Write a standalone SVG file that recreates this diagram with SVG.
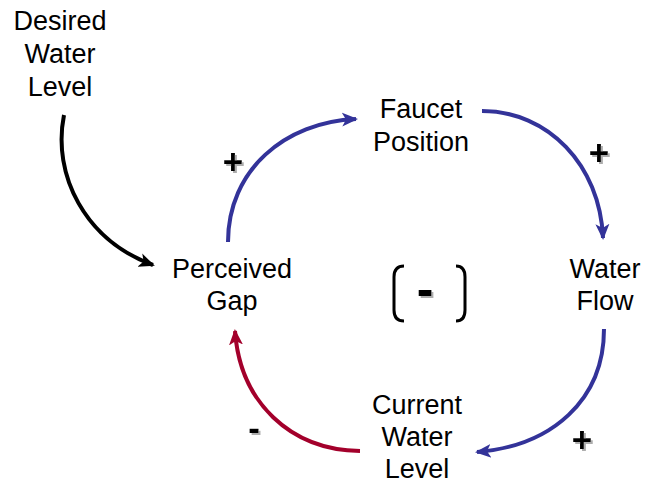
<svg xmlns="http://www.w3.org/2000/svg" width="645" height="484" viewBox="0 0 645 484">
<style>
.t{font-family:"Liberation Sans",Arial,sans-serif;font-size:27px;fill:#000;text-anchor:middle}
.s{font-family:"Liberation Sans",Arial,sans-serif;font-size:35px;font-weight:bold;text-anchor:middle;fill:#000;filter:url(#sh)}
.c{fill:none;stroke-width:4}
</style>
<defs>
<filter id="sh" x="-50%" y="-50%" width="200%" height="200%"><feDropShadow dx="2" dy="2" stdDeviation="0.4" flood-color="#999" flood-opacity="0.8"/></filter>
<marker id="ab" markerUnits="userSpaceOnUse" markerWidth="20" markerHeight="20" refX="14" refY="8" orient="auto"><path d="M0,1 L16,8 L0,15 L4,8 Z" fill="#333399"/></marker>
<marker id="ar" markerUnits="userSpaceOnUse" markerWidth="20" markerHeight="20" refX="14" refY="8" orient="auto"><path d="M0,1 L16,8 L0,15 L4,8 Z" fill="#a3002b"/></marker>
<marker id="ak" markerUnits="userSpaceOnUse" markerWidth="20" markerHeight="20" refX="14" refY="8" orient="auto"><path d="M0,1 L16,8 L0,15 L4,8 Z" fill="#000"/></marker>
</defs>
<g id="connectors">
<path class="c" stroke="#000" d="M64,115 C52,175 85,240 153,265" marker-end="url(#ak)"/>
<path class="c" stroke="#333399" d="M228,242 C228,170 285,122 356,119" marker-end="url(#ab)"/>
<path class="c" stroke="#333399" d="M482,111 C548,111 600,165 603,238" marker-end="url(#ab)"/>
<path class="c" stroke="#333399" d="M604,329 C604,400 552,446 477,452" marker-end="url(#ab)"/>
<path class="c" stroke="#a3002b" d="M360,451 C290,450 240,402 235,331" marker-end="url(#ar)"/>
</g>
<g id="desired"><text class="t" x="60" y="30">Desired</text><text class="t" x="60" y="63">Water</text><text class="t" x="60" y="96">Level</text></g>
<g id="faucet"><text class="t" x="421" y="118">Faucet</text><text class="t" x="421" y="151">Position</text></g>
<g id="perceived"><text class="t" x="232" y="278">Perceived</text><text class="t" x="232" y="310">Gap</text></g>
<g id="flow"><text class="t" x="605" y="278">Water</text><text class="t" x="605" y="310">Flow</text></g>
<g id="current"><text class="t" x="417" y="414">Current</text><text class="t" x="417" y="446">Water</text><text class="t" x="417" y="478">Level</text></g>
<g id="polarities">
<text class="s" x="233" y="174">+</text>
<text class="s" x="599" y="165">+</text>
<text class="s" x="582" y="452">+</text>
<text class="s" x="254" y="440">-</text>
</g>
<g id="loop">
<path d="M404,266 Q394,266 394,277 L394,310 Q394,321 404,321" fill="none" stroke="#000" stroke-width="3"/>
<path d="M456,266 Q465,266 465,277 L465,310 Q465,321 456,321" fill="none" stroke="#000" stroke-width="3"/>
<text class="s" x="425" y="306" style="font-size:50px">-</text>
</g>
</svg>
